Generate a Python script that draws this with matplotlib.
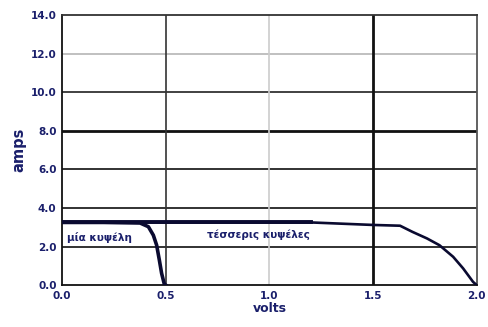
import matplotlib.pyplot as plt

# I-V curves for one cell and four cells in series
one_v = [0.0, 0.20, 0.376, 0.416, 0.44, 0.456, 0.469, 0.48, 0.493, 0.50]
one_a = [3.25, 3.25, 3.22, 3.03, 2.59, 2.07, 1.30, 0.61, 0.05, 0.0]

four_v = [0.0, 0.60, 1.20, 1.50, 1.63, 1.69, 1.76, 1.82, 1.886, 1.934, 1.982, 2.00]
four_a = [3.25, 3.25, 3.25, 3.12, 3.08, 2.76, 2.42, 2.07, 1.47, 0.87, 0.17, 0.0]

x_ticks = [0.0, 0.5, 1.0, 1.5, 2.0]
y_ticks = [0.0, 2.0, 4.0, 6.0, 8.0, 10.0, 12.0, 14.0]

navy = '#1a1f6b'

fig = plt.figure(figsize=(4.89, 3.27), dpi=100)
ax = fig.add_axes([0.127, 0.128, 0.848, 0.826])

# grid lines of varying weight
h_styles = {2.0: ('#222222', 1.3), 4.0: ('#222222', 1.3), 6.0: ('#222222', 1.3),
            8.0: ('#111111', 2.0), 10.0: ('#333333', 1.3), 12.0: ('#bbbbbb', 1.3)}
for y, (c, w) in h_styles.items():
    ax.axhline(y, color=c, lw=w, zorder=1)
v_styles = {0.5: ('#333333', 1.2), 1.0: ('#cccccc', 1.2), 1.5: ('#111111', 2.0)}
for x, (c, w) in v_styles.items():
    ax.axvline(x, color=c, lw=w, zorder=1)

# four cells: heavy flat part, lighter knee
ax.plot(four_v, four_a, color='#0a0a30', lw=1.9, zorder=3)
ax.plot(four_v[:3], four_a[:3], color='#0a0a30', lw=2.8, zorder=3)
ax.plot(one_v, one_a, color='#0a0a30', lw=2.6, zorder=3)

ax.text(0.025, 2.45, 'μία κυψέλη', color=navy, fontsize=7.5, fontweight='bold',
        va='center', zorder=4)
ax.text(0.70, 2.6, 'τέσσερις κυψέλες', color=navy, fontsize=7.5, fontweight='bold',
        va='center', zorder=4)

ax.set_xlim(0, 2.0)
ax.set_ylim(0, 14.0)
ax.set_xticks(x_ticks)
ax.set_yticks(y_ticks)
ax.set_xticklabels([f'{v:.1f}' for v in x_ticks])
ax.set_yticklabels([f'{v:.1f}' for v in y_ticks])
ax.tick_params(length=0, pad=4, labelsize=7.5, labelcolor=navy)
for lab in ax.get_xticklabels() + ax.get_yticklabels():
    lab.set_fontweight('bold')

ax.spines['left'].set_color('#111111')
ax.spines['bottom'].set_color('#111111')
ax.spines['top'].set_color('#333333')
ax.spines['right'].set_color('#555555')
for s in ax.spines.values():
    s.set_linewidth(1.3)

ax.set_xlabel('volts', color=navy, fontsize=9, fontweight='bold', labelpad=1)
ax.set_ylabel('amps', color=navy, fontsize=10.5, fontweight='bold', labelpad=3)

fig.savefig('out.png', dpi=100)
